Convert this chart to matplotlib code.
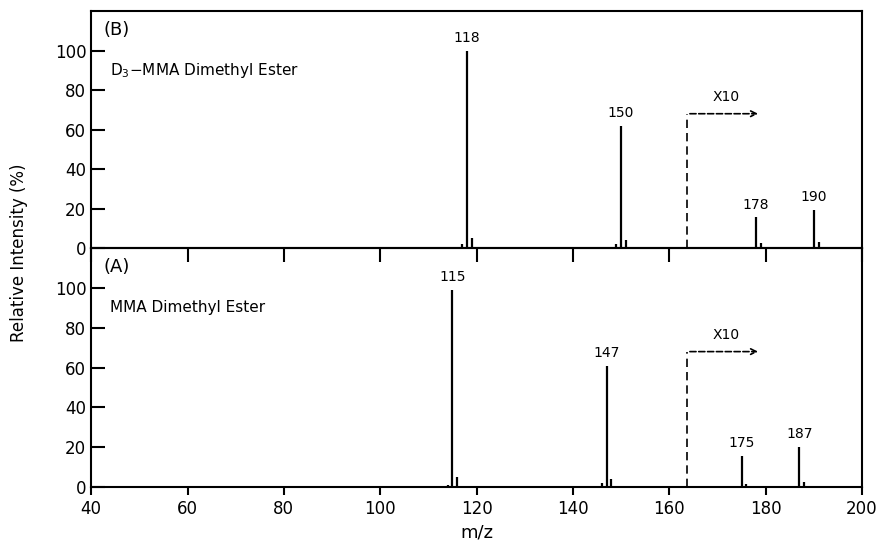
import matplotlib.pyplot as plt

# spectrum (B): D3-MMA dimethyl ester
mz_b = [117, 118, 119, 149, 150, 151, 178, 179, 190, 191]
int_b = [2, 100, 5, 2, 62, 4, 15.5, 2.5, 19.5, 3]
labels_b = [(118, 100, "118"), (150, 62, "150"), (178, 15.5, "178"), (190, 19.5, "190")]

# spectrum (A): MMA dimethyl ester
mz_a = [114, 115, 116, 146, 147, 148, 175, 176, 187, 188]
int_a = [1, 99, 5, 2, 61, 4, 15.5, 1.5, 20, 2.5]
labels_a = [(115, 99, "115"), (147, 61, "147"), (175, 15.5, "175"), (187, 20, "187")]

# x10 magnification marker: start m/z, height, arrow end m/z
x10_start = 163.7
x10_height = 68
x10_end = 179

plt.rcParams["font.family"] = ["DejaVu Sans"]
fig = plt.figure(figsize=(8.85, 5.5), dpi=100)
ax_b = fig.add_axes([0.103, 0.549, 0.871, 0.431])
ax_a = fig.add_axes([0.103, 0.1145, 0.871, 0.4345], sharex=ax_b)
ax_a.set_facecolor("none")  # keep ax_b's bottom ticks visible


def draw_panel(ax, mz, inten, labels, tag, name):
    ax.vlines(mz, 0, inten, color="black", lw=1.6)
    for x, y, txt in labels:
        ax.text(x, y + 3, txt, ha="center", va="bottom", fontsize=10)
    ax.plot([x10_start, x10_start], [0, x10_height], "k--", lw=1.2, dashes=(5, 3))
    ax.annotate("", xy=(x10_end, x10_height), xytext=(x10_start, x10_height),
                arrowprops=dict(arrowstyle="->", lw=1.2, ls="--", color="black"))
    ax.text((x10_start + x10_end) / 2 + 0.5, x10_height + 5, "X10",
            ha="center", va="bottom", fontsize=10)
    ax.text(0.016, 0.92, tag, transform=ax.transAxes, ha="left", va="center", fontsize=13)
    ax.text(0.025, 0.75, name, transform=ax.transAxes, ha="left", va="center", fontsize=11)
    ax.set_xlim(40, 200)
    ax.set_ylim(0, 120)
    ax.set_yticks([0, 20, 40, 60, 80, 100])
    ax.tick_params(axis="y", direction="in", length=10, width=1.5, labelsize=12)
    for s in ax.spines.values():
        s.set_linewidth(1.5)


draw_panel(ax_b, mz_b, int_b, labels_b, "(B)", r"D$_3$$-$MMA Dimethyl Ester")
draw_panel(ax_a, mz_a, int_a, labels_a, "(A)", "MMA Dimethyl Ester")

ax_a.set_xticks(range(40, 201, 20))
# ticks on the shared edge hang down into panel (A)
ax_b.tick_params(axis="x", direction="out", length=10, width=1.5, labelbottom=False)
ax_a.tick_params(axis="x", direction="out", length=6, width=1.5, labelsize=12)
ax_a.set_xlabel("m/z", fontsize=13)
fig.text(0.022, 0.54, "Relative Intensity (%)", rotation=90, ha="center", va="center", fontsize=12)

plt.savefig("out.png", dpi=100)
